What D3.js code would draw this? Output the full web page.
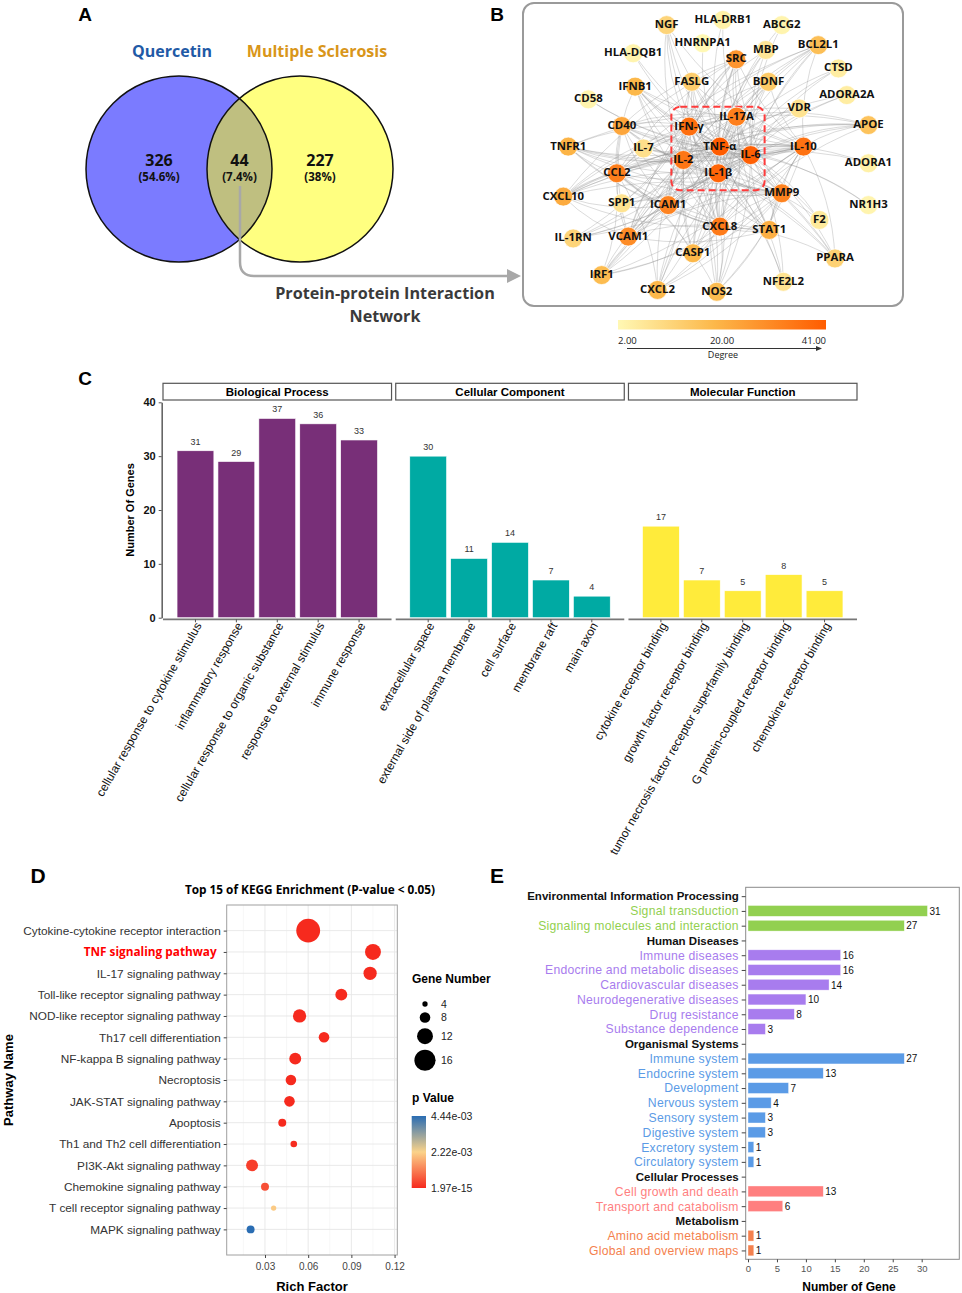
<!DOCTYPE html>
<html>
<head>
<meta charset="utf-8">
<script src="https://cdn.jsdelivr.net/npm/d3@7"></script>
<style>
body { margin: 0; background: #fff; }
svg { display: block; }
</style>
</head>
<body>
<script>
// ---------- data ----------
var vennSets = ['Quercetin', 'Multiple Sclerosis'];
var vennCounts = [326, 44, 227];
var vennPercents = ['(54.6%)', '(7.4%)', '(38%)'];

var ppiGenes = ['NGF','HLA-DRB1','ABCG2','HNRNPA1','MBP','BCL2L1','HLA-DQB1','SRC','CTSD','IFNB1',
  'FASLG','BDNF','CD58','ADORA2A','VDR','IL-17A','IFN-γ','CD40','APOE','TNFR1',
  'IL-7','TNF-α','IL-6','IL-10','IL-2','ADORA1','CCL2','IL-1β','MMP9','CXCL10',
  'SPP1','ICAM1','NR1H3','F2','CXCL8','STAT1','IL-1RN','VCAM1','CASP1','PPARA',
  'IRF1','CXCL2','NOS2','NFE2L2'];
var ppiDegree = [12,4,3,2,7,18,3,28,5,20,
  14,15,3,5,8,33,37,24,17,21,
  9,41,40,36,35,4,33,39,32,23,
  8,32,3,6,34,22,12,30,20,13,
  19,20,19,8];
// node layout of the network picture, in 0-100 units of the network box
var ppiLayoutX = [37.8,52.6,68.1,47.3,63.9,77.7,29.0,56.1,83.0,29.5,
  44.4,64.6,17.2,85.2,72.7,56.2,43.7,26.0,90.9,11.9,
  31.7,51.8,59.9,73.8,42.2,90.9,24.7,51.4,68.1,10.6,
  26.0,38.2,90.9,78.0,51.8,64.8,13.2,27.7,44.7,82.1,
  20.7,35.4,51.0,68.5];
var ppiLayoutY = [7.3,5.6,7.3,13.3,15.5,13.9,16.6,18.6,21.6,27.6,
  26.0,26.0,31.8,30.4,34.8,37.5,40.8,40.6,40.3,47.4,
  48.0,47.4,50.2,47.4,51.8,52.9,56.2,56.2,62.8,63.9,
  66.1,66.7,66.7,71.6,73.8,74.9,77.7,77.1,82.6,84.3,
  89.8,94.7,95.3,92.0];
var coreGenes = ['IFN-γ','IL-17A','TNF-α','IL-6','IL-2','IL-1β'];
var degreeTicks = ['2.00','20.00','41.00'];

var goOntologies = ['Biological Process','Cellular Component','Molecular Function'];
var goTerms = [
  ['cellular response to cytokine stimulus','inflammatory response','cellular response to organic substance','response to external stimulus','immune response'],
  ['extracellular space','external side of plasma membrane','cell surface','membrane raft','main axon'],
  ['cytokine receptor binding','growth factor receptor binding','tumor necrosis factor receptor superfamily binding','G protein-coupled receptor binding','chemokine receptor binding']
];
var goCounts = [[31,29,37,36,33],[30,11,14,7,4],[17,7,5,8,5]];
var goColors = ['#782f78','#00aaa3','#ffeb3b'];

var keggPathways = ['Cytokine-cytokine receptor interaction','TNF signaling pathway','IL-17 signaling pathway',
  'Toll-like receptor signaling pathway','NOD-like receptor signaling pathway','Th17 cell differentiation',
  'NF-kappa B signaling pathway','Necroptosis','JAK-STAT signaling pathway','Apoptosis',
  'Th1 and Th2 cell differentiation','PI3K-Akt signaling pathway','Chemokine signaling pathway',
  'T cell receptor signaling pathway','MAPK signaling pathway'];
var keggRichFactor = [0.060,0.105,0.103,0.083,0.054,0.071,0.051,0.048,0.047,0.042,0.050,0.021,0.030,0.036,0.020];
var keggGeneNumber = [18,12,10,9,10,8,9,8,8,6,5,9,6,4,6];
var keggPValue = [1.97e-15,3.1e-14,4.5e-13,2.6e-10,1.1e-11,6.3e-10,1.4e-10,3.8e-9,5.2e-9,4.1e-7,2.3e-5,2.6e-4,4.9e-4,2.1e-3,4.44e-3];
var sizeBreaks = [4,8,12,16];
var pBreaks = ['4.44e-03','2.22e-03','1.97e-15'];

var keggClasses = ['Environmental Information Processing','Human Diseases','Organismal Systems','Cellular Processes','Metabolism'];
var keggSubclasses = [
  ['Signal transduction','Signaling molecules and interaction'],
  ['Immune diseases','Endocrine and metabolic diseases','Cardiovascular diseases','Neurodegenerative diseases','Drug resistance','Substance dependence'],
  ['Immune system','Endocrine system','Development','Nervous system','Sensory system','Digestive system','Excretory system','Circulatory system'],
  ['Cell growth and death','Transport and catabolism'],
  ['Amino acid metabolism','Global and overview maps']
];
var keggSubCounts = [[31,27],[16,16,14,10,8,3],[27,13,7,4,3,3,1,1],[13,6],[1,1]];
var classColors = ['#92d050','#a87cee','#5b9be6','#ff7f7f','#f4814e'];

// ---------- setup ----------
var SANS = "'Liberation Sans', Arial, sans-serif";
var CAL = "'Open Sans', 'Noto Sans', sans-serif";

var svg = d3.select('body').append('svg')
  .attr('width', 962)
  .attr('height', 1293)
  .style('font-family', SANS);
var defs = svg.append('defs');

function letter(t, x, y, s) {
  svg.append('text').attr('x', x).attr('y', y)
    .attr('text-anchor', 'middle')
    .attr('font-weight', 'bold')
    .attr('font-size', s)
    .text(t);
}
letter('A', 85, 21, 19);
letter('B', 497, 21, 19);
letter('C', 85, 385, 19);
letter('D', 38, 883, 21);
letter('E', 497, 883, 21);

// ---------- A : venn ----------
var va = svg.append('g').attr('font-family', CAL).attr('font-weight', 'bold');
var vennX = d3.scalePoint().domain([0, 1, 2]).range([159, 320]);
var cyV = 169, rV = 93;
var cL = 179, cR = 300;

defs.append('clipPath').attr('id', 'clipL')
  .append('circle').attr('cx', cL).attr('cy', cyV).attr('r', rV);

va.append('circle').attr('cx', cL).attr('cy', cyV).attr('r', rV).attr('fill', '#7b7bff');
va.append('circle').attr('cx', cR).attr('cy', cyV).attr('r', rV).attr('fill', '#ffff80');
va.append('circle').attr('cx', cR).attr('cy', cyV).attr('r', rV).attr('fill', '#bfbf80')
  .attr('clip-path', 'url(#clipL)');
[cL, cR].forEach(function(c) {
  va.append('circle').attr('cx', c).attr('cy', cyV).attr('r', rV)
    .attr('fill', 'none').attr('stroke', '#111').attr('stroke-width', 1.5);
});

va.append('text').attr('x', 172).attr('y', 57).attr('text-anchor', 'middle')
  .attr('font-size', 16).attr('fill', '#1f5aa6').text(vennSets[0]);
va.append('text').attr('x', 317).attr('y', 57).attr('text-anchor', 'middle')
  .attr('font-size', 16).attr('fill', '#d9961a').text(vennSets[1]);

va.selectAll('.vn').data(vennCounts).enter().append('text')
  .attr('x', function(d, i) { return vennX(i); })
  .attr('y', 166).attr('text-anchor', 'middle').attr('font-size', 16).attr('fill', '#111')
  .text(function(d) { return d; });
va.selectAll('.vp').data(vennPercents).enter().append('text')
  .attr('x', function(d, i) { return vennX(i); })
  .attr('y', 180.5).attr('text-anchor', 'middle').attr('font-size', 11.5).attr('fill', '#111')
  .text(function(d) { return d; });

va.append('path')
  .attr('d', 'M240,186 V262 Q240,276 254,276 H508')
  .attr('fill', 'none').attr('stroke', '#a8a8a8').attr('stroke-width', 2.5);
va.append('path').attr('d', 'M507,269 L521,276 L507,283 Z').attr('fill', '#a8a8a8');
va.append('text').attr('x', 385).attr('y', 299).attr('text-anchor', 'middle')
  .attr('font-size', 16.2).attr('fill', '#3a3a3a').text('Protein-protein Interaction');
va.append('text').attr('x', 385).attr('y', 322).attr('text-anchor', 'middle')
  .attr('font-size', 16.2).attr('fill', '#3a3a3a').text('Network');

// ---------- B : PPI network ----------
var box = { x: 523, y: 3, w: 380, h: 303 };
var nx = d3.scaleLinear().domain([0, 100]).range([box.x, box.x + box.w]);
var ny = d3.scaleLinear().domain([0, 100]).range([box.y, box.y + box.h]);
var degColor = d3.scaleLinear().domain([2, 20, 41]).range(['#fff8b4', '#fcb84a', '#ff5c00']);

var nodes = ppiGenes.map(function(g, i) {
  return { name: g, deg: ppiDegree[i], x: nx(ppiLayoutX[i]), y: ny(ppiLayoutY[i]) };
});

// edges: each gene linked to the best connected genes, as many as half its degree
var order = d3.range(nodes.length).sort(function(a, b) { return ppiDegree[b] - ppiDegree[a]; });
var seen = {}, edges = [];
nodes.forEach(function(n, i) {
  var k = Math.ceil(n.deg / 2), c = 0;
  for (var t = 0; t < order.length && c < k; t++) {
    var j = order[t];
    if (j === i) continue;
    var key = Math.min(i, j) + '-' + Math.max(i, j);
    if (!seen[key]) { seen[key] = 1; edges.push([i, j]); }
    c++;
  }
});

var vb = svg.append('g');
vb.append('rect').attr('x', box.x).attr('y', box.y).attr('width', box.w).attr('height', box.h)
  .attr('rx', 11).attr('fill', '#fff').attr('stroke', '#9a9a9a').attr('stroke-width', 2);

vb.append('g').selectAll('path').data(edges).enter().append('path')
  .attr('d', function(e) {
    var a = nodes[e[0]], b = nodes[e[1]];
    var mx = (a.x + b.x) / 2, my = (a.y + b.y) / 2;
    var dx = b.x - a.x, dy = b.y - a.y;
    return 'M' + a.x + ',' + a.y + ' Q' + (mx - dy * 0.12) + ',' + (my + dx * 0.12) + ' ' + b.x + ',' + b.y;
  })
  .attr('fill', 'none').attr('stroke', '#8f8f8f').attr('stroke-opacity', 0.36).attr('stroke-width', 0.9);

var core = nodes.filter(function(n) { return coreGenes.indexOf(n.name) >= 0; });
var cx0 = d3.min(core, function(n) { return n.x; }) - 12, cx1 = d3.max(core, function(n) { return n.x; }) + 14;
var cy0 = d3.min(core, function(n) { return n.y; }) - 10, cy1 = d3.max(core, function(n) { return n.y; }) + 17;
vb.append('rect').attr('x', cx0).attr('y', cy0).attr('width', cx1 - cx0).attr('height', cy1 - cy0)
  .attr('rx', 9).attr('fill', 'none').attr('stroke', '#ff3b3b').attr('stroke-width', 2)
  .attr('stroke-dasharray', '7,4');

var ng = vb.append('g').selectAll('g').data(nodes).enter().append('g')
  .attr('transform', function(d) { return 'translate(' + [d.x, d.y] + ')'; });
ng.append('circle').attr('r', 9.5)
  .attr('fill', function(d) { return degColor(d.deg); })
  .attr('stroke', '#fff').attr('stroke-opacity', 0.7).attr('stroke-width', 1);
ng.append('text').attr('y', 3).attr('text-anchor', 'middle')
  .attr('font-family', CAL).attr('font-weight', 'bold').attr('font-size', 11.4).attr('fill', '#111')
  .text(function(d) { return d.name; });

// degree colour bar
var grad = defs.append('linearGradient').attr('id', 'degGrad');
[2, 20, 41].forEach(function(v) {
  grad.append('stop').attr('offset', (v - 2) / 39).attr('stop-color', degColor(v));
});
var barX = d3.scalePoint().domain(degreeTicks).range([618, 826]);
vb.append('rect').attr('x', 618).attr('y', 320).attr('width', 208).attr('height', 9.5).attr('fill', 'url(#degGrad)');
vb.selectAll('.dt').data(degreeTicks).enter().append('text')
  .attr('x', function(d) { return barX(d); }).attr('y', 344)
  .attr('text-anchor', function(d, i) { return ['start', 'middle', 'end'][i]; })
  .attr('font-family', CAL).attr('font-size', 9.5).attr('fill', '#222')
  .text(function(d) { return d; });
vb.append('line').attr('x1', 627).attr('x2', 817).attr('y1', 348.5).attr('y2', 348.5)
  .attr('stroke', '#333').attr('stroke-width', 1);
vb.append('path').attr('d', 'M816,346 L822,348.5 L816,351 Z').attr('fill', '#333');
vb.append('text').attr('x', 723).attr('y', 358).attr('text-anchor', 'middle')
  .attr('font-family', CAL).attr('font-size', 9).attr('fill', '#222').text('Degree');

// ---------- C : GO bars ----------
var vc = svg.append('g');
var cY = d3.scaleLinear().domain([0, 40]).range([617.7, 402.3]);
var facet = d3.scaleBand().domain(goOntologies).range([163, 857]).paddingInner(0.018);

goOntologies.forEach(function(o, k) {
  var x0 = facet(o), bw = facet.bandwidth();
  var g = vc.append('g');
  g.append('rect').attr('x', x0).attr('y', 383.3).attr('width', bw).attr('height', 16.7)
    .attr('fill', '#fff').attr('stroke', '#555').attr('stroke-width', 1.2);
  g.append('text').attr('x', x0 + bw / 2).attr('y', 396).attr('text-anchor', 'middle')
    .attr('font-weight', 'bold').attr('font-size', 11.5).text(o);

  var bx = d3.scaleBand().domain(goTerms[k]).range([x0 + 12, x0 + bw - 12])
    .paddingInner(0.1).paddingOuter(0.05);
  var data = goTerms[k].map(function(t, i) { return { term: t, n: goCounts[k][i] }; });
  g.selectAll('.bar').data(data).enter().append('rect')
    .attr('x', function(d) { return bx(d.term); })
    .attr('y', function(d) { return cY(d.n); })
    .attr('width', bx.bandwidth())
    .attr('height', function(d) { return cY(0) - cY(d.n); })
    .attr('fill', goColors[k]).attr('stroke', '#fff').attr('stroke-width', 0.6);
  g.selectAll('.lab').data(data).enter().append('text')
    .attr('x', function(d) { return bx(d.term) + bx.bandwidth() / 2; })
    .attr('y', function(d) { return cY(d.n) - 6; })
    .attr('text-anchor', 'middle').attr('font-size', 9).attr('fill', '#333')
    .text(function(d) { return d.n; });

  var ax = g.append('g').attr('transform', 'translate(0,619.3)')
    .call(d3.axisBottom(bx).tickSize(3).tickSizeOuter(0));
  ax.select('.domain').remove();
  ax.insert('line', ':first-child').attr('x1', x0).attr('x2', x0 + bw)
    .attr('stroke', '#777').attr('stroke-width', 1.8);
  ax.selectAll('.tick line').attr('stroke', '#555');
  ax.selectAll('.tick text')
    .attr('font-family', SANS).attr('font-size', 12).attr('fill', '#111')
    .attr('text-anchor', 'end')
    .attr('transform', 'translate(3,4) rotate(-60)')
    .attr('x', 0).attr('y', 0).attr('dy', '0.35em');
});

var yax = vc.append('g').attr('transform', 'translate(161.7,0)')
  .call(d3.axisLeft(cY).tickValues([0, 10, 20, 30, 40]).tickSize(3).tickSizeOuter(0));
yax.select('.domain').attr('stroke', '#666').attr('stroke-width', 1.6);
yax.selectAll('.tick line').attr('stroke', '#555');
yax.selectAll('.tick text').attr('font-family', SANS).attr('font-weight', 'bold')
  .attr('font-size', 11).attr('fill', '#111');
vc.append('text').attr('transform', 'translate(134,510) rotate(-90)').attr('text-anchor', 'middle')
  .attr('font-weight', 'bold').attr('font-size', 11).text('Number Of Genes');

// ---------- D : KEGG bubble ----------
var vd = svg.append('g');
var dArea = { x0: 226.7, x1: 397.3, y0: 905, y1: 1255 };
var dx = d3.scaleLinear().domain([0.0034, 0.1219]).range([dArea.x0, dArea.x1]);
var dy = d3.scalePoint().domain(keggPathways).range([dArea.y0, dArea.y1]).padding(1.2);
var rSize = d3.scaleLinear().domain([0, 16]).range([0, 10.6]);
var pColor = d3.scaleLinear().domain([1.97e-15, 2.22e-3, 4.44e-3]).range(['#f62a1e', '#fbd38a', '#2a6db3']);

vd.append('text').attr('x', 310).attr('y', 894).attr('text-anchor', 'middle')
  .attr('font-family', CAL).attr('font-weight', 'bold').attr('font-size', 11.8)
  .text('Top 15 of KEGG Enrichment (P-value < 0.05)');

vd.append('rect').attr('x', dArea.x0).attr('y', dArea.y0)
  .attr('width', dArea.x1 - dArea.x0).attr('height', dArea.y1 - dArea.y0).attr('fill', '#fff');
var minor = [0.015, 0.045, 0.075, 0.105];
vd.selectAll('.gmin').data(minor).enter().append('line')
  .attr('x1', dx).attr('x2', dx).attr('y1', dArea.y0).attr('y2', dArea.y1)
  .attr('stroke', '#f2f2f2').attr('stroke-width', 0.6);
vd.selectAll('.gmaj').data([0.03, 0.06, 0.09, 0.12]).enter().append('line')
  .attr('x1', dx).attr('x2', dx).attr('y1', dArea.y0).attr('y2', dArea.y1)
  .attr('stroke', '#e6e6e6').attr('stroke-width', 0.9);
vd.selectAll('.gy').data(keggPathways).enter().append('line')
  .attr('x1', dArea.x0).attr('x2', dArea.x1).attr('y1', dy).attr('y2', dy)
  .attr('stroke', '#e6e6e6').attr('stroke-width', 0.9);
vd.append('rect').attr('x', dArea.x0).attr('y', dArea.y0)
  .attr('width', dArea.x1 - dArea.x0).attr('height', dArea.y1 - dArea.y0)
  .attr('fill', 'none').attr('stroke', '#a0a0a0').attr('stroke-width', 1);

var kegg = keggPathways.map(function(p, i) {
  return { name: p, rf: keggRichFactor[i], n: keggGeneNumber[i], p: keggPValue[i] };
});
vd.selectAll('.dot').data(kegg).enter().append('circle')
  .attr('cx', function(d) { return dx(d.rf); })
  .attr('cy', function(d) { return dy(d.name); })
  .attr('r', function(d) { return rSize(d.n); })
  .attr('fill', function(d) { return pColor(d.p); });

var dxa = vd.append('g').attr('transform', 'translate(0,' + dArea.y1 + ')')
  .call(d3.axisBottom(dx).tickValues([0.03, 0.06, 0.09, 0.12]).tickSize(3).tickFormat(d3.format('.2f')));
dxa.select('.domain').remove();
dxa.selectAll('.tick line').attr('stroke', '#444');
dxa.selectAll('.tick text').attr('font-family', SANS).attr('font-size', 10).attr('fill', '#444').attr('dy', '0.9em');

var dya = vd.append('g').attr('transform', 'translate(' + dArea.x0 + ',0)')
  .call(d3.axisLeft(dy).tickSize(3));
dya.select('.domain').remove();
dya.selectAll('.tick line').attr('stroke', '#444');
dya.selectAll('.tick text').attr('font-family', SANS).attr('font-size', 11.8).attr('fill', '#333')
  .filter(function(d) { return d === 'TNF signaling pathway'; })
  .attr('fill', '#ff0000').attr('font-family', CAL).attr('font-weight', 'bold').attr('x', -10);

vd.append('text').attr('x', 312).attr('y', 1291).attr('text-anchor', 'middle')
  .attr('font-weight', 'bold').attr('font-size', 13).text('Rich Factor');
vd.append('text').attr('transform', 'translate(12.5,1080) rotate(-90)').attr('text-anchor', 'middle')
  .attr('font-weight', 'bold').attr('font-size', 13).text('Pathway Name');

// size legend
vd.append('text').attr('x', 412).attr('y', 983).attr('font-weight', 'bold').attr('font-size', 12).text('Gene Number');
var ky = [], yy = 1004;
sizeBreaks.forEach(function(v, i) {
  if (i > 0) yy += rSize(sizeBreaks[i - 1]) + rSize(v) + 5.5;
  ky.push(yy);
});
vd.selectAll('.sk').data(sizeBreaks).enter().append('circle')
  .attr('cx', 425).attr('cy', function(d, i) { return ky[i]; })
  .attr('r', function(d) { return rSize(d); }).attr('fill', '#000');
vd.selectAll('.sl').data(sizeBreaks).enter().append('text')
  .attr('x', 441).attr('y', function(d, i) { return ky[i] + 4; })
  .attr('font-size', 10.5).attr('fill', '#222').text(function(d) { return d; });

// p value colour bar
vd.append('text').attr('x', 412).attr('y', 1102).attr('font-weight', 'bold').attr('font-size', 12).text('p Value');
var pg = defs.append('linearGradient').attr('id', 'pGrad').attr('x1', 0).attr('y1', 1).attr('x2', 0).attr('y2', 0);
d3.range(0, 1.001, 0.1).forEach(function(t) {
  pg.append('stop').attr('offset', t).attr('stop-color', pColor(1.97e-15 + t * (4.44e-3 - 1.97e-15)));
});
vd.append('rect').attr('x', 411.7).attr('y', 1116).attr('width', 14.3).attr('height', 72).attr('fill', 'url(#pGrad)');
var pbY = d3.scalePoint().domain(pBreaks).range([1116, 1188]);
vd.selectAll('.pl').data(pBreaks).enter().append('text')
  .attr('x', 431).attr('y', function(d) { return pbY(d) + 4; })
  .attr('font-size', 10.5).attr('fill', '#222').text(function(d) { return d; });

// ---------- E : KEGG classification ----------
var ve = svg.append('g');
var rows = [];
keggClasses.forEach(function(c, k) {
  rows.push({ label: c, header: true, k: k, n: null });
  keggSubclasses[k].forEach(function(s, i) {
    rows.push({ label: s, header: false, k: k, n: keggSubCounts[k][i] });
  });
});
rows.forEach(function(r, i) { r.id = i; });

var eArea = { x0: 745.7, x1: 959.3, y0: 887.3, y1: 1259.3 };
var ex = d3.scaleLinear().domain([-0.4, 36.5]).range([eArea.x0, eArea.x1]);
var ey = d3.scalePoint().domain(rows.map(function(r) { return r.id; })).range([eArea.y0, eArea.y1]).padding(0.6);

ve.append('rect').attr('x', eArea.x0).attr('y', eArea.y0)
  .attr('width', eArea.x1 - eArea.x0).attr('height', eArea.y1 - eArea.y0)
  .attr('fill', 'none').attr('stroke', '#8a8a8a').attr('stroke-width', 1);

var bars = rows.filter(function(r) { return !r.header; });
ve.selectAll('.eb').data(bars).enter().append('rect')
  .attr('x', ex(0))
  .attr('y', function(d) { return ey(d.id) - 5.4; })
  .attr('width', function(d) { return ex(d.n) - ex(0); })
  .attr('height', 10.8)
  .attr('fill', function(d) { return classColors[d.k]; })
  .attr('stroke', '#fff').attr('stroke-opacity', 0.6).attr('stroke-width', 0.6);
ve.selectAll('.ev').data(bars).enter().append('text')
  .attr('x', function(d) { return ex(d.n) + 2; })
  .attr('y', function(d) { return ey(d.id) + 3.8; })
  .attr('font-size', 10).attr('fill', '#111').text(function(d) { return d.n; });

var eya = ve.append('g').attr('transform', 'translate(' + eArea.x0 + ',0)')
  .call(d3.axisLeft(ey).tickSize(4).tickFormat(function(id) { return rows[id].label; }));
eya.select('.domain').remove();
eya.selectAll('.tick line').attr('stroke', '#444');
eya.selectAll('.tick text')
  .attr('font-family', SANS)
  .attr('font-size', function(id) { return rows[id].header ? 11.5 : 12.2; })
  .attr('letter-spacing', function(id) { return rows[id].header ? 0 : 0.25; })
  .attr('font-weight', function(id) { return rows[id].header ? 'bold' : 'normal'; })
  .attr('fill', function(id) { return rows[id].header ? '#111' : classColors[rows[id].k]; });

var exa = ve.append('g').attr('transform', 'translate(0,' + eArea.y1 + ')')
  .call(d3.axisBottom(ex).tickValues([0, 5, 10, 15, 20, 25, 30]).tickSize(3));
exa.select('.domain').remove();
exa.selectAll('.tick line').attr('stroke', '#444');
exa.selectAll('.tick text').attr('font-family', SANS).attr('font-size', 9.5).attr('fill', '#555');
ve.append('text').attr('x', 849).attr('y', 1291).attr('text-anchor', 'middle')
  .attr('font-weight', 'bold').attr('font-size', 12).text('Number of Gene');
</script>
</body>
</html>
